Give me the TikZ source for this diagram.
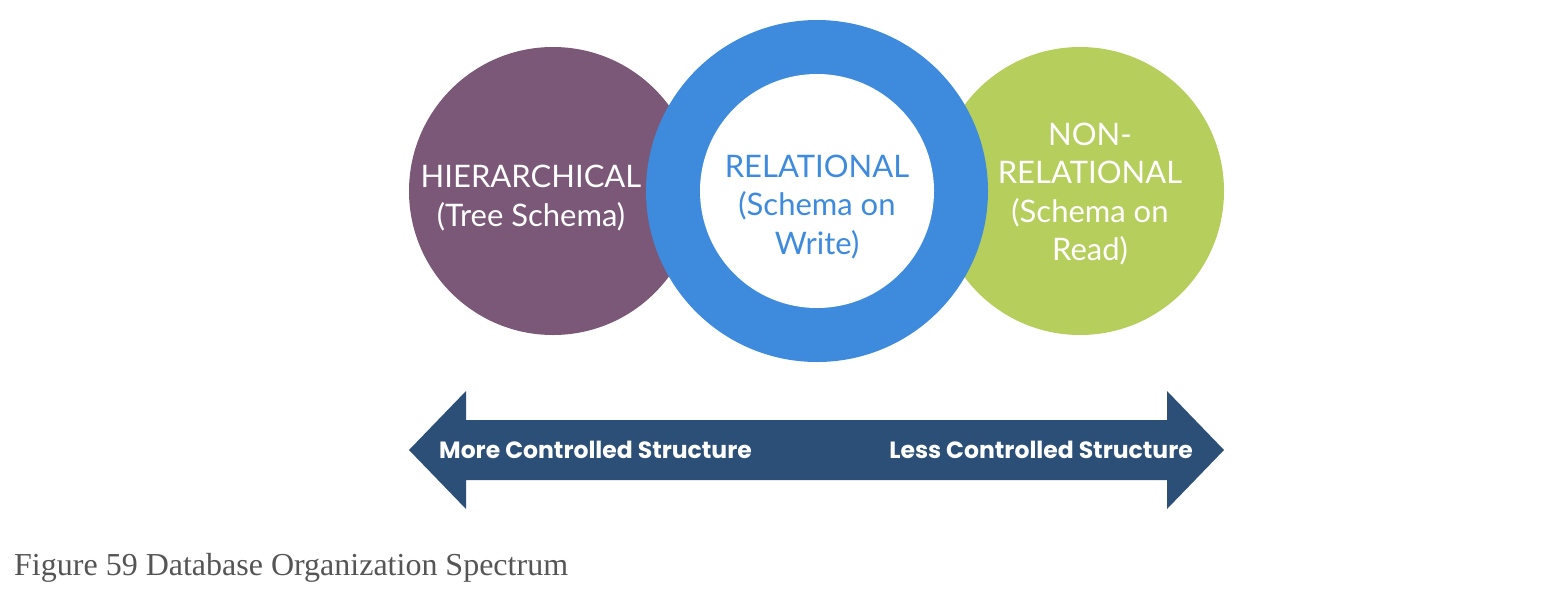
\documentclass[tikz,border=0pt]{standalone}
\usepackage{fontspec}
\setmainfont{Lato}
\newfontfamily\capfont{Liberation Serif}
\newfontfamily\arrowfont{Poppins}
\definecolor{cpurple}{HTML}{7B5878}
\definecolor{cblue}{HTML}{3E8BDE}
\definecolor{cgreen}{HTML}{B5CE5C}
\definecolor{cnavy}{HTML}{2C4F77}
\definecolor{cgray}{HTML}{555555}
\tikzset{
  circtext/.style={align=center, font=\fontsize{31}{38.5}\selectfont, inner sep=0pt},
  arrowtext/.style={font=\arrowfont\bfseries\fontsize{23.5}{28}\selectfont, text=white, inner sep=0pt, anchor=base west},
}
\begin{document}
\begin{tikzpicture}[x=1pt,y=-1pt]
\useasboundingbox (0,0) rectangle (1552,592);
% circles
\fill[cpurple] (553,191) circle (144);
\fill[cgreen] (1080,191) circle (144);
\fill[cblue] (817,191) circle (171);
\fill[white] (817,191) circle (117);
% texts
\node[circtext, text=white] (hier) at (531,198) {HIERARCHICAL\\(Tree Schema)};
\node[circtext, text=cblue] (rel) at (817,207) {RELATIONAL\\(Schema on\\Write)};
\node[circtext, text=white] (nonrel) at (1090,194) {NON-\\RELATIONAL\\(Schema on\\Read)};
% arrow
\fill[cnavy] (409,450) -- (466,391) -- (466,420) -- (1167,420) -- (1167,391)
  -- (1224,450) -- (1167,509) -- (1167,480) -- (466,480) -- (466,509) -- cycle;
\node[arrowtext] (more) at (439,458) {More Controlled Structure};
\node[arrowtext, anchor=base east] (less) at (1193,458) {Less Controlled Structure};
% caption
\node[anchor=base west, inner sep=0pt, text=cgray, font=\capfont\fontsize{32}{36}\selectfont] (cap) at (14,575) {Figure 59 Database Organization Spectrum};
\end{tikzpicture}
\end{document}
